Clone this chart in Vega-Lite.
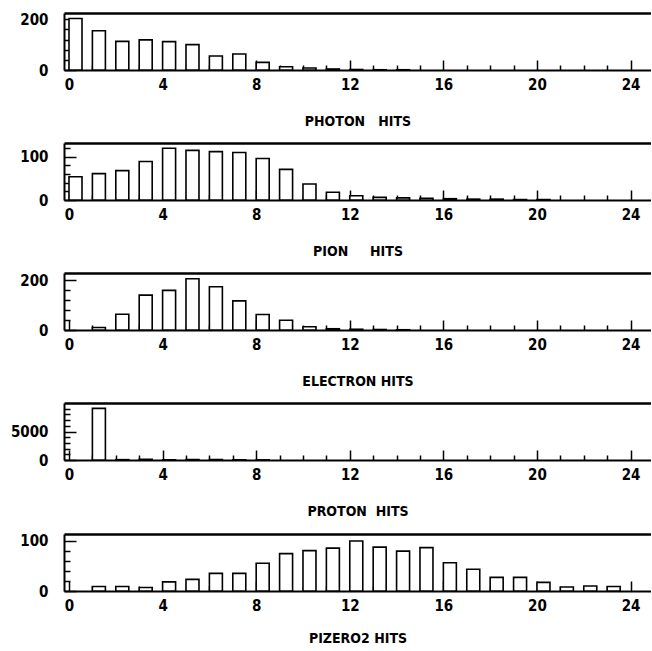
{
  "$schema": "https://vega.github.io/schema/vega-lite/v6.json",
  "padding": {"top": 12, "left": 10, "right": 0, "bottom": 0},
  "background": "white",
  "data": {"values": [
    {"particle": "PHOTON", "hits": 0, "count": 203},
    {"particle": "PHOTON", "hits": 1, "count": 155},
    {"particle": "PHOTON", "hits": 2, "count": 113},
    {"particle": "PHOTON", "hits": 3, "count": 119},
    {"particle": "PHOTON", "hits": 4, "count": 112},
    {"particle": "PHOTON", "hits": 5, "count": 100},
    {"particle": "PHOTON", "hits": 6, "count": 55},
    {"particle": "PHOTON", "hits": 7, "count": 63},
    {"particle": "PHOTON", "hits": 8, "count": 30},
    {"particle": "PHOTON", "hits": 9, "count": 13},
    {"particle": "PHOTON", "hits": 10, "count": 8},
    {"particle": "PHOTON", "hits": 11, "count": 4},
    {"particle": "PHOTON", "hits": 12, "count": 2},
    {"particle": "PHOTON", "hits": 13, "count": 1},
    {"particle": "PHOTON", "hits": 14, "count": 1},
    {"particle": "PION", "hits": 0, "count": 54},
    {"particle": "PION", "hits": 1, "count": 61},
    {"particle": "PION", "hits": 2, "count": 68},
    {"particle": "PION", "hits": 3, "count": 89},
    {"particle": "PION", "hits": 4, "count": 120},
    {"particle": "PION", "hits": 5, "count": 115},
    {"particle": "PION", "hits": 6, "count": 112},
    {"particle": "PION", "hits": 7, "count": 110},
    {"particle": "PION", "hits": 8, "count": 96},
    {"particle": "PION", "hits": 9, "count": 71},
    {"particle": "PION", "hits": 10, "count": 37},
    {"particle": "PION", "hits": 11, "count": 18},
    {"particle": "PION", "hits": 12, "count": 10},
    {"particle": "PION", "hits": 13, "count": 6},
    {"particle": "PION", "hits": 14, "count": 5},
    {"particle": "PION", "hits": 15, "count": 4},
    {"particle": "PION", "hits": 16, "count": 3},
    {"particle": "PION", "hits": 17, "count": 2},
    {"particle": "PION", "hits": 18, "count": 2},
    {"particle": "PION", "hits": 19, "count": 1},
    {"particle": "PION", "hits": 20, "count": 1},
    {"particle": "ELECTRON", "hits": 1, "count": 10},
    {"particle": "ELECTRON", "hits": 2, "count": 63},
    {"particle": "ELECTRON", "hits": 3, "count": 140},
    {"particle": "ELECTRON", "hits": 4, "count": 159},
    {"particle": "ELECTRON", "hits": 5, "count": 206},
    {"particle": "ELECTRON", "hits": 6, "count": 174},
    {"particle": "ELECTRON", "hits": 7, "count": 117},
    {"particle": "ELECTRON", "hits": 8, "count": 62},
    {"particle": "ELECTRON", "hits": 9, "count": 39},
    {"particle": "ELECTRON", "hits": 10, "count": 13},
    {"particle": "ELECTRON", "hits": 11, "count": 5},
    {"particle": "ELECTRON", "hits": 12, "count": 3},
    {"particle": "ELECTRON", "hits": 13, "count": 2},
    {"particle": "ELECTRON", "hits": 14, "count": 1},
    {"particle": "PROTON", "hits": 1, "count": 9050},
    {"particle": "PROTON", "hits": 2, "count": 60},
    {"particle": "PROTON", "hits": 3, "count": 120},
    {"particle": "PROTON", "hits": 4, "count": 40},
    {"particle": "PROTON", "hits": 5, "count": 60},
    {"particle": "PROTON", "hits": 6, "count": 80},
    {"particle": "PROTON", "hits": 7, "count": 40},
    {"particle": "PROTON", "hits": 8, "count": 20},
    {"particle": "PIZERO2", "hits": 1, "count": 9},
    {"particle": "PIZERO2", "hits": 2, "count": 9},
    {"particle": "PIZERO2", "hits": 3, "count": 7},
    {"particle": "PIZERO2", "hits": 4, "count": 18},
    {"particle": "PIZERO2", "hits": 5, "count": 23},
    {"particle": "PIZERO2", "hits": 6, "count": 35},
    {"particle": "PIZERO2", "hits": 7, "count": 35},
    {"particle": "PIZERO2", "hits": 8, "count": 55},
    {"particle": "PIZERO2", "hits": 9, "count": 74},
    {"particle": "PIZERO2", "hits": 10, "count": 80},
    {"particle": "PIZERO2", "hits": 11, "count": 85},
    {"particle": "PIZERO2", "hits": 12, "count": 99},
    {"particle": "PIZERO2", "hits": 13, "count": 87},
    {"particle": "PIZERO2", "hits": 14, "count": 79},
    {"particle": "PIZERO2", "hits": 15, "count": 86},
    {"particle": "PIZERO2", "hits": 16, "count": 56},
    {"particle": "PIZERO2", "hits": 17, "count": 43},
    {"particle": "PIZERO2", "hits": 18, "count": 27},
    {"particle": "PIZERO2", "hits": 19, "count": 27},
    {"particle": "PIZERO2", "hits": 20, "count": 17},
    {"particle": "PIZERO2", "hits": 21, "count": 8},
    {"particle": "PIZERO2", "hits": 22, "count": 10},
    {"particle": "PIZERO2", "hits": 23, "count": 9}
  ]},
  "vconcat": [
    {
      "width": 587, "height": 57,
      "transform": [{"filter": "datum.particle === 'PHOTON'"}],
      "layer": [
        {"mark": {"type": "bar", "size": 13, "xOffset": 6.5, "fill": "white", "stroke": "black", "strokeWidth": 1.6},
         "encoding": {
           "x": {"field": "hits", "type": "quantitative", "scale": {"domain": [0, 24.66], "nice": false, "zero": false},
                 "axis": {"orient": "bottom", "values": [0, 4, 8, 12, 16, 20, 24], "tickSize": -10, "labelPadding": 17, "title": "PHOTON\u00a0\u00a0\u00a0HITS", "titlePadding": 22}},
           "y": {"field": "count", "type": "quantitative", "scale": {"domain": [0, 225], "nice": false},
                 "axis": {"orient": "left", "values": [0, 200], "format": "d", "tickSize": -12, "labelPadding": 28, "title": null}}}},
        {"mark": {"type": "bar", "opacity": 0},
         "encoding": {
           "x": {"field": "hits", "type": "quantitative", "axis": {"orient": "bottom", "values": [1,2,3,5,6,7,9,10,11,13,14,15,17,18,19,21,22,23], "tickSize": -5, "labels": false, "domain": false, "title": null}},
           "y": {"field": "count", "type": "quantitative", "axis": {"orient": "left", "values": [40, 80, 120, 160], "tickSize": -6, "labels": false, "domain": false, "title": null}}}},
        {"mark": {"type": "bar", "opacity": 0},
         "encoding": {
           "x": {"field": "hits", "type": "quantitative", "axis": {"orient": "top", "ticks": false, "labels": false, "title": null, "domainWidth": 2.5}},
           "y": {"field": "count", "type": "quantitative", "axis": null}}}
      ],
      "resolve": {"axis": {"x": "independent", "y": "independent"}}
    },
    {
      "width": 587, "height": 57,
      "transform": [{"filter": "datum.particle === 'PION'"}],
      "layer": [
        {"mark": {"type": "bar", "size": 13, "xOffset": 6.5, "fill": "white", "stroke": "black", "strokeWidth": 1.6},
         "encoding": {
           "x": {"field": "hits", "type": "quantitative", "scale": {"domain": [0, 24.66], "nice": false, "zero": false},
                 "axis": {"orient": "bottom", "values": [0, 4, 8, 12, 16, 20, 24], "tickSize": -10, "labelPadding": 17, "title": "PION\u00a0\u00a0\u00a0\u00a0\u00a0HITS", "titlePadding": 22}},
           "y": {"field": "count", "type": "quantitative", "scale": {"domain": [0, 132], "nice": false},
                 "axis": {"orient": "left", "values": [0, 100], "format": "d", "tickSize": -12, "labelPadding": 28, "title": null}}}},
        {"mark": {"type": "bar", "opacity": 0},
         "encoding": {
           "x": {"field": "hits", "type": "quantitative", "axis": {"orient": "bottom", "values": [1,2,3,5,6,7,9,10,11,13,14,15,17,18,19,21,22,23], "tickSize": -5, "labels": false, "domain": false, "title": null}},
           "y": {"field": "count", "type": "quantitative", "axis": {"orient": "left", "values": [20, 40, 60, 80, 120], "tickSize": -6, "labels": false, "domain": false, "title": null}}}},
        {"mark": {"type": "bar", "opacity": 0},
         "encoding": {
           "x": {"field": "hits", "type": "quantitative", "axis": {"orient": "top", "ticks": false, "labels": false, "title": null, "domainWidth": 2.5}},
           "y": {"field": "count", "type": "quantitative", "axis": null}}}
      ],
      "resolve": {"axis": {"x": "independent", "y": "independent"}}
    },
    {
      "width": 587, "height": 57,
      "transform": [{"filter": "datum.particle === 'ELECTRON'"}],
      "layer": [
        {"mark": {"type": "bar", "size": 13, "xOffset": 6.5, "fill": "white", "stroke": "black", "strokeWidth": 1.6},
         "encoding": {
           "x": {"field": "hits", "type": "quantitative", "scale": {"domain": [0, 24.66], "nice": false, "zero": false},
                 "axis": {"orient": "bottom", "values": [0, 4, 8, 12, 16, 20, 24], "tickSize": -10, "labelPadding": 17, "title": "ELECTRON HITS", "titlePadding": 22}},
           "y": {"field": "count", "type": "quantitative", "scale": {"domain": [0, 229], "nice": false},
                 "axis": {"orient": "left", "values": [0, 200], "format": "d", "tickSize": -12, "labelPadding": 28, "title": null}}}},
        {"mark": {"type": "bar", "opacity": 0},
         "encoding": {
           "x": {"field": "hits", "type": "quantitative", "axis": {"orient": "bottom", "values": [1,2,3,5,6,7,9,10,11,13,14,15,17,18,19,21,22,23], "tickSize": -5, "labels": false, "domain": false, "title": null}},
           "y": {"field": "count", "type": "quantitative", "axis": {"orient": "left", "values": [40, 80, 120, 160], "tickSize": -6, "labels": false, "domain": false, "title": null}}}},
        {"mark": {"type": "bar", "opacity": 0},
         "encoding": {
           "x": {"field": "hits", "type": "quantitative", "axis": {"orient": "top", "ticks": false, "labels": false, "title": null, "domainWidth": 2.5}},
           "y": {"field": "count", "type": "quantitative", "axis": null}}}
      ],
      "resolve": {"axis": {"x": "independent", "y": "independent"}}
    },
    {
      "width": 587, "height": 57,
      "transform": [{"filter": "datum.particle === 'PROTON'"}],
      "layer": [
        {"mark": {"type": "bar", "size": 13, "xOffset": 6.5, "fill": "white", "stroke": "black", "strokeWidth": 1.6},
         "encoding": {
           "x": {"field": "hits", "type": "quantitative", "scale": {"domain": [0, 24.66], "nice": false, "zero": false},
                 "axis": {"orient": "bottom", "values": [0, 4, 8, 12, 16, 20, 24], "tickSize": -10, "labelPadding": 17, "title": "PROTON\u00a0\u00a0HITS", "titlePadding": 22}},
           "y": {"field": "count", "type": "quantitative", "scale": {"domain": [0, 10000], "nice": false},
                 "axis": {"orient": "left", "values": [0, 5000], "format": "d", "tickSize": -12, "labelPadding": 28, "title": null}}}},
        {"mark": {"type": "bar", "opacity": 0},
         "encoding": {
           "x": {"field": "hits", "type": "quantitative", "axis": {"orient": "bottom", "values": [1,2,3,5,6,7,9,10,11,13,14,15,17,18,19,21,22,23], "tickSize": -5, "labels": false, "domain": false, "title": null}},
           "y": {"field": "count", "type": "quantitative", "axis": {"orient": "left", "values": [1000, 2000, 3000, 4000, 6000, 7000, 8000, 9000], "tickSize": -6, "labels": false, "domain": false, "title": null}}}},
        {"mark": {"type": "bar", "opacity": 0},
         "encoding": {
           "x": {"field": "hits", "type": "quantitative", "axis": {"orient": "top", "ticks": false, "labels": false, "title": null, "domainWidth": 2.5}},
           "y": {"field": "count", "type": "quantitative", "axis": null}}}
      ],
      "resolve": {"axis": {"x": "independent", "y": "independent"}}
    },
    {
      "width": 587, "height": 57,
      "transform": [{"filter": "datum.particle === 'PIZERO2'"}],
      "layer": [
        {"mark": {"type": "bar", "size": 13, "xOffset": 6.5, "fill": "white", "stroke": "black", "strokeWidth": 1.6},
         "encoding": {
           "x": {"field": "hits", "type": "quantitative", "scale": {"domain": [0, 24.66], "nice": false, "zero": false},
                 "axis": {"orient": "bottom", "values": [0, 4, 8, 12, 16, 20, 24], "tickSize": -10, "labelPadding": 17, "title": "PIZERO2 HITS", "titlePadding": 18}},
           "y": {"field": "count", "type": "quantitative", "scale": {"domain": [0, 113], "nice": false},
                 "axis": {"orient": "left", "values": [0, 100], "format": "d", "tickSize": -12, "labelPadding": 28, "title": null}}}},
        {"mark": {"type": "bar", "opacity": 0},
         "encoding": {
           "x": {"field": "hits", "type": "quantitative", "axis": {"orient": "bottom", "values": [1,2,3,5,6,7,9,10,11,13,14,15,17,18,19,21,22,23], "tickSize": -5, "labels": false, "domain": false, "title": null}},
           "y": {"field": "count", "type": "quantitative", "axis": {"orient": "left", "values": [20, 40, 60, 80], "tickSize": -6, "labels": false, "domain": false, "title": null}}}},
        {"mark": {"type": "bar", "opacity": 0},
         "encoding": {
           "x": {"field": "hits", "type": "quantitative", "axis": {"orient": "top", "ticks": false, "labels": false, "title": null, "domainWidth": 2.5}},
           "y": {"field": "count", "type": "quantitative", "axis": null}}}
      ],
      "resolve": {"axis": {"x": "independent", "y": "independent"}}
    }
  ],
  "config": {
    "view": {"stroke": null},
    "concat": {"spacing": 15},
    "axis": {
      "grid": false,
      "domainColor": "black", "domainWidth": 2,
      "tickColor": "black", "tickWidth": 1.5,
      "labelColor": "black", "labelFont": "DejaVu Sans Condensed", "labelFontWeight": "bold", "labelFontSize": 15,
      "labelFlush": false, "labelOverlap": false,
      "titleColor": "black", "titleFont": "DejaVu Sans Condensed", "titleFontWeight": "bold", "titleFontSize": 14
    }
  }
}
